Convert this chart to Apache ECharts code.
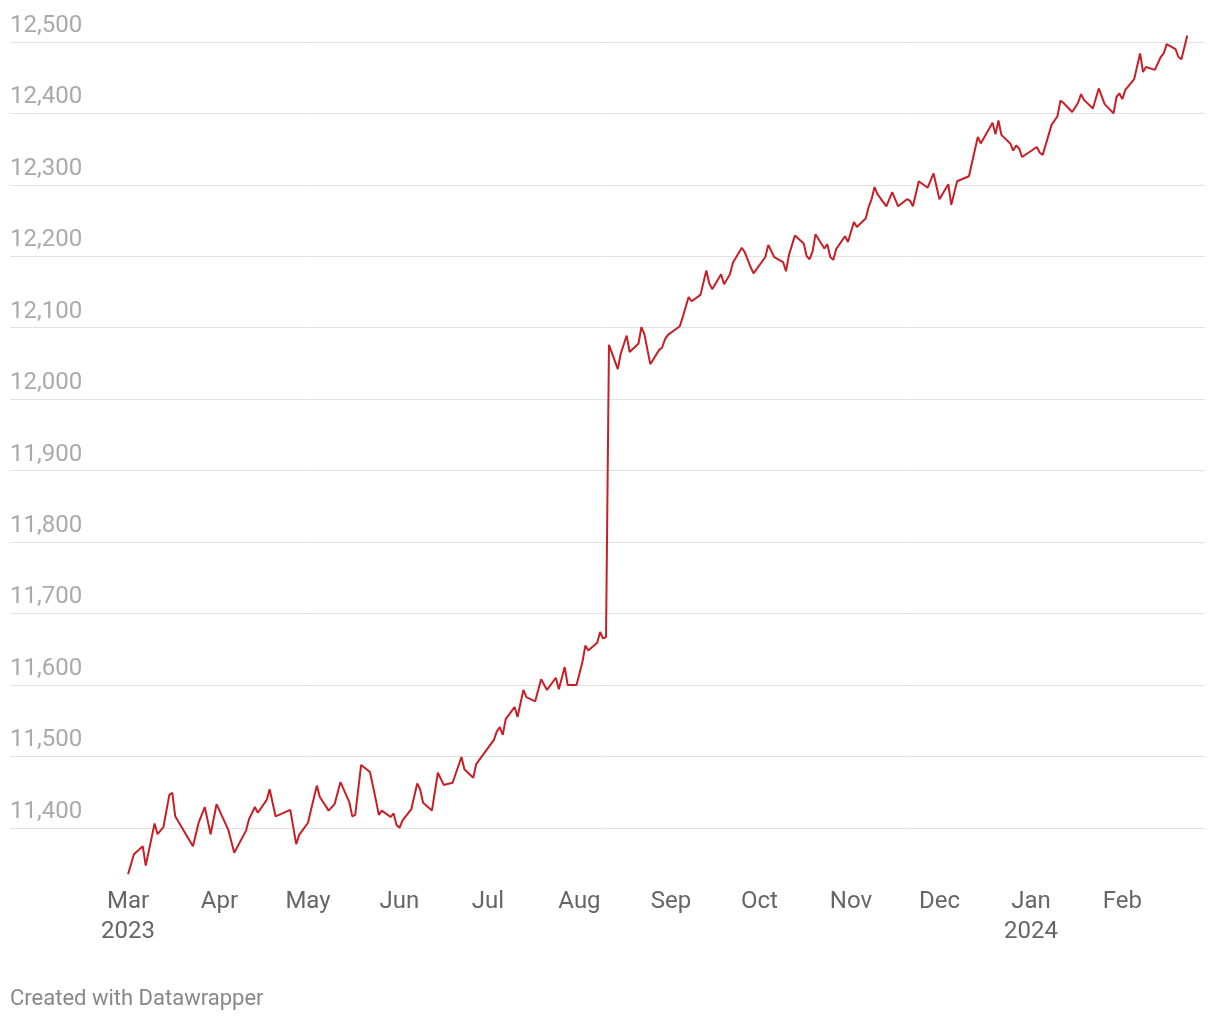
<!DOCTYPE html>
<html>
<head>
<meta charset="utf-8">
<script src="https://cdn.jsdelivr.net/npm/echarts@6/dist/echarts.min.js"></script>
<style>
  html, body { margin: 0; padding: 0; background: #ffffff; }
  #chart { width: 1220px; height: 1020px; }
</style>
</head>
<body>
<div id="chart"></div>
<script>
// ---- data ----
const dates = [
  '2023-03-01','2023-03-03','2023-03-06','2023-03-07','2023-03-10','2023-03-11','2023-03-13','2023-03-15','2023-03-16','2023-03-17',
  '2023-03-23','2023-03-25','2023-03-27','2023-03-29','2023-03-31','2023-04-04','2023-04-06','2023-04-10','2023-04-11','2023-04-13',
  '2023-04-14','2023-04-17','2023-04-18','2023-04-20','2023-04-25','2023-04-27','2023-04-28','2023-05-01','2023-05-02','2023-05-04',
  '2023-05-05','2023-05-08','2023-05-10','2023-05-12','2023-05-15','2023-05-16','2023-05-17','2023-05-19','2023-05-22','2023-05-24',
  '2023-05-25','2023-05-26','2023-05-29','2023-05-30','2023-05-31','2023-06-01','2023-06-02','2023-06-05','2023-06-07','2023-06-08',
  '2023-06-09','2023-06-12','2023-06-14','2023-06-16','2023-06-19','2023-06-22','2023-06-23','2023-06-26','2023-06-27','2023-07-03',
  '2023-07-04','2023-07-05','2023-07-06','2023-07-07','2023-07-10','2023-07-11','2023-07-13','2023-07-14','2023-07-17','2023-07-19',
  '2023-07-21','2023-07-24','2023-07-25','2023-07-27','2023-07-28','2023-07-31','2023-08-02','2023-08-03','2023-08-04','2023-08-07',
  '2023-08-08','2023-08-09','2023-08-10','2023-08-11','2023-08-14','2023-08-15','2023-08-17','2023-08-18','2023-08-21','2023-08-22',
  '2023-08-23','2023-08-25','2023-08-28','2023-08-29','2023-08-30','2023-08-31','2023-09-04','2023-09-05','2023-09-07','2023-09-08',
  '2023-09-11','2023-09-13','2023-09-14','2023-09-15','2023-09-18','2023-09-19','2023-09-21','2023-09-22','2023-09-25','2023-09-26',
  '2023-09-28','2023-09-29','2023-10-03','2023-10-04','2023-10-06','2023-10-09','2023-10-10','2023-10-11','2023-10-13','2023-10-16',
  '2023-10-17','2023-10-18','2023-10-19','2023-10-20','2023-10-23','2023-10-24','2023-10-25','2023-10-26','2023-10-27','2023-10-30',
  '2023-10-31','2023-11-02','2023-11-03','2023-11-06','2023-11-07','2023-11-08','2023-11-09','2023-11-10','2023-11-13','2023-11-15',
  '2023-11-17','2023-11-20','2023-11-21','2023-11-22','2023-11-24','2023-11-27','2023-11-28','2023-11-29','2023-12-01','2023-12-04',
  '2023-12-05','2023-12-07','2023-12-11','2023-12-14','2023-12-15','2023-12-19','2023-12-20','2023-12-21','2023-12-22','2023-12-25',
  '2023-12-26','2023-12-27','2023-12-28','2023-12-29','2024-01-03','2024-01-04','2024-01-05','2024-01-08','2024-01-10','2024-01-11',
  '2024-01-12','2024-01-15','2024-01-17','2024-01-18','2024-01-19','2024-01-22','2024-01-24','2024-01-26','2024-01-29','2024-01-30',
  '2024-01-31','2024-02-01','2024-02-02','2024-02-05','2024-02-06','2024-02-07','2024-02-08','2024-02-09','2024-02-12','2024-02-14',
  '2024-02-15','2024-02-16','2024-02-19','2024-02-20','2024-02-21','2024-02-23'
];
const values = [
  11335,11363,11374,11347,11406,11391,11401,11446,11449,11416,
  11374,11408,11429,11391,11433,11397,11365,11396,11412,11429,
  11421,11439,11454,11416,11425,11377,11390,11407,11425,11459,
  11443,11424,11433,11464,11436,11416,11418,11488,11478,11439,
  11418,11424,11415,11420,11404,11400,11410,11426,11462,11454,
  11435,11424,11477,11460,11463,11499,11482,11470,11489,11523,
  11535,11541,11530,11552,11569,11555,11593,11583,11577,11608,
  11593,11610,11594,11625,11600,11600,11632,11655,11648,11659,
  11674,11665,11667,12076,12042,12064,12089,12066,12078,12101,
  12091,12049,12069,12072,12084,12090,12102,12115,12143,12137,
  12146,12180,12162,12154,12175,12161,12175,12191,12212,12206,
  12185,12176,12199,12216,12199,12192,12179,12202,12229,12218,
  12200,12196,12207,12231,12211,12217,12199,12195,12210,12228,
  12220,12248,12241,12253,12269,12280,12297,12287,12270,12290,
  12270,12280,12278,12270,12305,12296,12306,12316,12280,12301,
  12272,12305,12312,12367,12358,12387,12371,12390,12370,12358,
  12348,12355,12351,12339,12353,12345,12342,12384,12396,12418,
  12415,12402,12415,12427,12419,12407,12435,12413,12400,12423,
  12428,12420,12433,12448,12466,12484,12458,12465,12461,12479,
  12484,12497,12490,12479,12476,12509
];
const tickDates = ['2023-03-01','2023-04-01','2023-05-01','2023-06-01','2023-07-01','2023-08-01',
  '2023-09-01','2023-10-01','2023-11-01','2023-12-01','2024-01-01','2024-02-01'];
const tickLabels = ['Mar\n2023','Apr','May','Jun','Jul','Aug','Sep','Oct','Nov','Dec','Jan\n2024','Feb'];
const yTicks = { min: 11300, max: 12500, step: 100 };

// ---- helpers ----
function toTime(s) {
  const p = s.split('-').map(Number);
  return Date.UTC(p[0], p[1] - 1, p[2]);
}
const DAY = 86400000;
const tickTimes = tickDates.map(toTime);
const xMin = toTime('2023-03-01') - 40 * DAY;
const xMax = toTime('2023-03-01') + 365 * DAY;

const seriesData = dates.map((d, i) => [toTime(d), values[i]]);

const chart = echarts.init(document.getElementById('chart'), null, { renderer: 'canvas' });
chart.setOption({
  animation: false,
  backgroundColor: '#ffffff',
  textStyle: { fontFamily: 'Roboto, sans-serif' },
  grid: { left: 10, right: 15, top: 42, bottom: 120.8, containLabel: false },
  xAxis: {
    type: 'value',
    min: xMin,
    max: xMax,
    axisLine: { show: false },
    axisTick: { show: false },
    splitLine: { show: false },
    axisLabel: {
      customValues: tickTimes,
      formatter: function (v) {
        const i = tickTimes.indexOf(v);
        return i >= 0 ? tickLabels[i] : '';
      },
      color: '#666666',
      fontSize: 24,
      lineHeight: 30,
      margin: -12,
      align: 'center',
      fontFamily: 'Roboto, sans-serif'
    }
  },
  yAxis: {
    type: 'value',
    min: yTicks.min,
    max: yTicks.max,
    interval: yTicks.step,
    axisLine: { show: false },
    axisTick: { show: false },
    splitLine: { show: true, showMinLine: false, lineStyle: { color: '#e1e1e1', width: 1 } },
    axisLabel: {
      inside: true,
      showMinLabel: false,
      margin: 0,
      align: 'left',
      verticalAlign: 'bottom',
      padding: [0, 0, 4, 0],
      color: '#aaaaaa',
      fontSize: 24,
      fontFamily: 'Roboto, sans-serif',
      formatter: function (v) { return v.toLocaleString('en-US'); }
    }
  },
  series: [{
    type: 'line',
    data: seriesData,
    showSymbol: false,
    symbol: 'none',
    clip: false,
    lineStyle: { color: '#c71f26', width: 2 },
    z: 3
  }],
  graphic: [{
    type: 'text',
    left: 10,
    top: 988,
    style: {
      text: 'Created with Datawrapper',
      fill: '#888888',
      fontSize: 22,
      fontFamily: 'Roboto, sans-serif'
    }
  }]
});
</script>
</body>
</html>
